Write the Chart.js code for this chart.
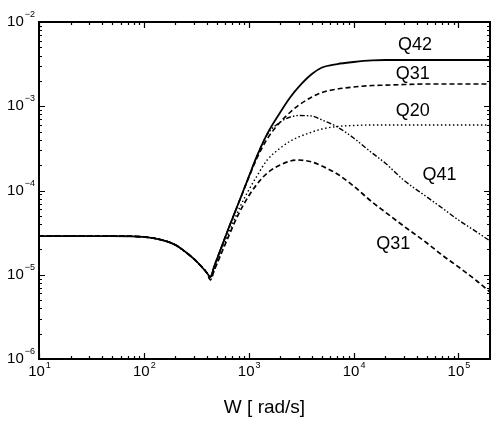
<!DOCTYPE html>
<html>
<head>
<meta charset="utf-8">
<script src="https://cdn.jsdelivr.net/npm/chart.js@4/dist/chart.umd.min.js"></script>
<style>
  html, body { margin: 0; padding: 0; background: #fff; }
  #wrap { width: 491px; height: 421px; }
</style>
</head>
<body>
<div id="wrap"><canvas id="chart"></canvas></div>
<script>
// frequency axis (rad/s)
const W = [10, 20, 50, 100, 150, 200, 250, 300, 350, 400, 430, 470, 550, 650, 800,
  1000, 1200, 1500, 2000, 2500, 3000, 4000, 5000, 7000, 10000, 15000, 20000,
  30000, 50000, 70000, 100000, 150000, 200000];

// curves
const Q42 = [2.88e-5, 2.88e-5, 2.88e-5, 2.81e-5, 2.58e-5, 2.26e-5, 1.86e-5, 1.54e-5, 1.27e-5, 1.05e-5,
  9.4e-6, 1.27e-5, 2.13e-5, 3.69e-5, 7.1e-5, 1.45e-4, 2.57e-4, 4.7e-4, 8.5e-4, 1.29e-3, 1.70e-3,
  2.41e-3, 2.88e-3, 3.17e-3, 3.35e-3, 3.50e-3, 3.54e-3, 3.54e-3, 3.54e-3, 3.54e-3, 3.54e-3, 3.54e-3, 3.54e-3];
const Q31_UP = [2.88e-5, 2.88e-5, 2.88e-5, 2.81e-5, 2.58e-5, 2.26e-5, 1.86e-5, 1.54e-5, 1.27e-5, 1.05e-5,
  9.4e-6, 1.27e-5, 2.13e-5, 3.69e-5, 7.1e-5, 1.42e-4, 2.43e-4, 4.1e-4, 6.5e-4, 8.55e-4, 1.03e-3,
  1.29e-3, 1.46e-3, 1.60e-3, 1.69e-3, 1.76e-3, 1.78e-3, 1.81e-3, 1.84e-3, 1.84e-3, 1.84e-3, 1.84e-3, 1.84e-3];
const Q20 = [2.88e-5, 2.88e-5, 2.88e-5, 2.81e-5, 2.58e-5, 2.26e-5, 1.86e-5, 1.54e-5, 1.27e-5, 1.05e-5,
  8.7e-6, 1.14e-5, 1.86e-5, 3.21e-5, 5.87e-5, 1.01e-4, 1.49e-4, 2.30e-4, 3.19e-4, 3.87e-4, 4.32e-4,
  4.94e-4, 5.37e-4, 5.75e-4, 5.91e-4, 5.99e-4, 5.99e-4, 5.99e-4, 5.99e-4, 5.99e-4, 5.99e-4, 5.99e-4, 5.99e-4];
const Q41 = [2.88e-5, 2.88e-5, 2.88e-5, 2.81e-5, 2.58e-5, 2.26e-5, 1.86e-5, 1.54e-5, 1.27e-5, 1.05e-5,
  9.4e-6, 1.27e-5, 2.13e-5, 3.69e-5, 7.1e-5, 1.45e-4, 2.57e-4, 4.6e-4, 6.5e-4, 7.45e-4, 7.76e-4,
  7.66e-4, 6.87e-4, 5.67e-4, 4.20e-4, 2.79e-4, 2.12e-4, 1.33e-4, 8.38e-5, 6.19e-5, 4.46e-5, 3.21e-5, 2.52e-5];
const Q31_LOW = [2.88e-5, 2.88e-5, 2.88e-5, 2.81e-5, 2.58e-5, 2.26e-5, 1.86e-5, 1.54e-5, 1.27e-5, 1.05e-5,
  8.7e-6, 1.14e-5, 1.81e-5, 2.96e-5, 5.26e-5, 8.61e-5, 1.19e-4, 1.61e-4, 2.01e-4, 2.24e-4, 2.30e-4,
  2.18e-4, 1.95e-4, 1.57e-4, 1.13e-4, 7.31e-5, 5.56e-5, 3.79e-5, 2.38e-5, 1.71e-5, 1.24e-5, 8.43e-6, 6.24e-6];

// curve labels (text, position in data units)
const LABEL_TEXT = ['Q42', 'Q31', 'Q20', 'Q41', 'Q31'];
const LABEL_W = [3.86e4, 3.66e4, 3.66e4, 6.6e4, 2.39e4];
const LABEL_V = [5.33e-3, 2.38e-3, 8.8e-4, 1.53e-4, 2.32e-5];

// decade exponents for tick labels
const X_EXP = [1, 2, 3, 4, 5];
const Y_EXP = [-6, -5, -4, -3, -2];
const X_TITLE = 'W [ rad/s]';

const X_MIN = 10, X_MAX = 2e5, Y_MIN = 1e-6, Y_MAX = 1e-2;

function pts(vals) {
    return W.map((w, i) => ({ x: w, y: vals[i] }));
}

function line(label, vals, dash, width) {
    return {
        label: label,
        data: pts(vals),
        borderColor: '#000',
        borderWidth: width,
        borderDash: dash,
        pointRadius: 0,
        fill: false,
        cubicInterpolationMode: 'monotone'
    };
}

const FONT = '"Liberation Sans", Arial, sans-serif';

// frame, inward ticks, decade labels and curve names
const decor = {
    id: 'decor',
    afterDraw(chart) {
        const ctx = chart.ctx;
        const a = chart.chartArea;
        const xs = chart.scales.x, ys = chart.scales.y;
        ctx.save();
        ctx.strokeStyle = '#000';
        ctx.fillStyle = '#000';

        // frame
        ctx.lineWidth = 2;
        ctx.strokeRect(a.left, a.top, a.right - a.left, a.bottom - a.top);

        // ticks
        ctx.lineWidth = 1.2;
        ctx.beginPath();
        for (let e = 1; e <= 5; e++) {
            for (let m = 1; m <= 9; m++) {
                const v = m * Math.pow(10, e);
                if (v < X_MIN || v > X_MAX) continue;
                const px = Math.round(xs.getPixelForValue(v)) + 0.5;
                const len = m === 1 ? 6 : 3;
                ctx.moveTo(px, a.bottom); ctx.lineTo(px, a.bottom - len);
                ctx.moveTo(px, a.top); ctx.lineTo(px, a.top + len);
            }
        }
        for (let e = -6; e <= -2; e++) {
            for (let m = 1; m <= 9; m++) {
                const v = m * Math.pow(10, e);
                if (v < Y_MIN || v > Y_MAX * 1.0001) continue;
                const py = Math.round(ys.getPixelForValue(v)) + 0.5;
                const len = m === 1 ? 6 : 3;
                ctx.moveTo(a.left, py); ctx.lineTo(a.left + len, py);
                ctx.moveTo(a.right, py); ctx.lineTo(a.right - len, py);
            }
        }
        ctx.stroke();

        // decade labels
        ctx.textBaseline = 'alphabetic';
        X_EXP.forEach(e => {
            const px = xs.getPixelForValue(Math.pow(10, e));
            ctx.font = '15px ' + FONT;
            const bw = ctx.measureText('10').width;
            ctx.font = '9px ' + FONT;
            const ew = ctx.measureText(String(e)).width;
            const x0 = px - (bw + ew) / 2;
            ctx.font = '15px ' + FONT;
            ctx.textAlign = 'left';
            ctx.fillText('10', x0, a.bottom + 17);
            ctx.font = '9px ' + FONT;
            ctx.fillText(String(e), x0 + bw + 1, a.bottom + 9);
        });
        Y_EXP.forEach(e => {
            const py = ys.getPixelForValue(Math.pow(10, e));
            const es = e.toString().replace('-', '\u2212');
            ctx.font = '9px ' + FONT;
            const ew = ctx.measureText(es).width;
            const xr = a.left - 4;
            ctx.textAlign = 'left';
            ctx.fillText(es, xr - ew, py - 5);
            ctx.font = '15px ' + FONT;
            ctx.textAlign = 'right';
            ctx.fillText('10', xr - ew - 1, py + 4);
        });

        // x-axis title
        ctx.font = '19px ' + FONT;
        ctx.textAlign = 'center';
        ctx.textBaseline = 'middle';
        ctx.fillText(X_TITLE, (a.left + a.right) / 2, a.bottom + 49);

        // curve names
        ctx.font = '18px ' + FONT;
        LABEL_TEXT.forEach((t, i) => {
            ctx.fillText(t, xs.getPixelForValue(LABEL_W[i]), ys.getPixelForValue(LABEL_V[i]));
        });
        ctx.restore();
    }
};

new Chart(document.getElementById('chart'), {
    type: 'line',
    data: {
        datasets: [
            line('Q42', Q42, [], 1.8),
            line('Q31', Q31_UP, [5, 3], 1.6),
            line('Q20', Q20, [1.5, 2.5], 1.4),
            line('Q41', Q41, [5, 2, 1.5, 2, 1.5, 2], 1.4),
            line('Q31', Q31_LOW, [5, 3], 1.7)
        ]
    },
    options: {
        responsive: true,
        maintainAspectRatio: false,
        animation: false,
        layout: { padding: { top: 22, right: 1, left: 0, bottom: 0 } },
        plugins: {
            legend: { display: false },
            tooltip: { enabled: false }
        },
        scales: {
            x: {
                type: 'logarithmic',
                min: X_MIN,
                max: X_MAX,
                grid: { display: false },
                border: { display: false },
                ticks: { display: false },
                afterFit: s => { s.height = 62; }
            },
            y: {
                type: 'logarithmic',
                min: Y_MIN,
                max: Y_MAX,
                grid: { display: false },
                border: { display: false },
                ticks: { display: false },
                afterFit: s => { s.width = 39; }
            }
        }
    },
    plugins: [decor]
});
</script>
</body>
</html>
